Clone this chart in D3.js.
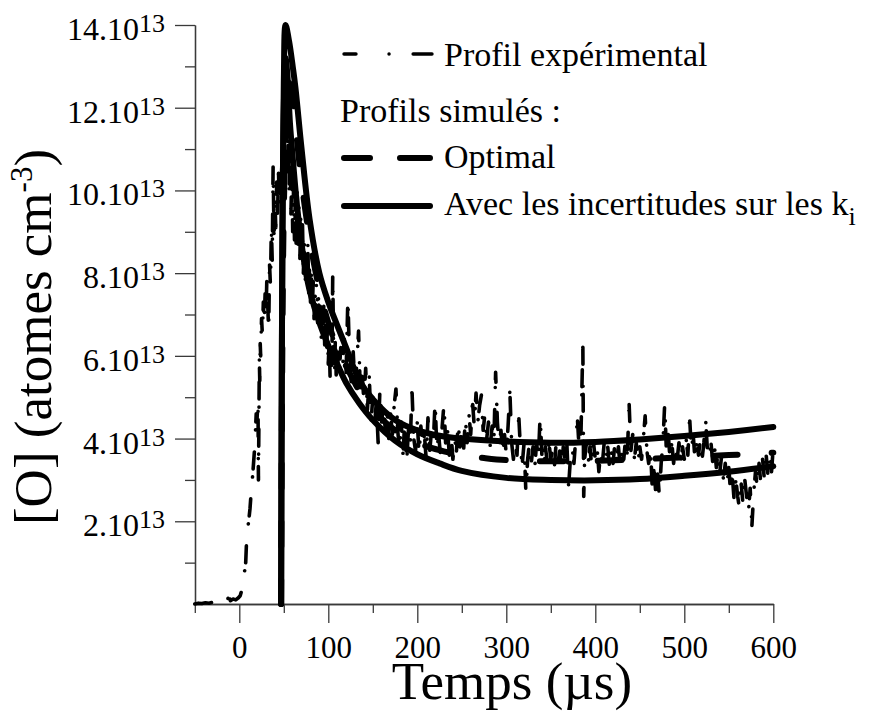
<!DOCTYPE html>
<html>
<head>
<meta charset="utf-8">
<script src="https://cdn.jsdelivr.net/npm/d3@7"></script>
<style>
  html, body { margin: 0; padding: 0; background: #fff; }
  svg { display: block; }
  text { font-family: "Liberation Serif", "Times New Roman", serif; fill: #000; }
</style>
</head>
<body>
<svg id="chart" width="874" height="713"></svg>
<script>
// ---------- data (concentration in units of 1e13 atomes cm-3, time in µs) ----------
const xMajorTicks = [0, 100, 200, 300, 400, 500, 600];
const xMinorTicks = [-50, 50, 150, 250, 350, 450, 550];
const yMajorTicks = [2, 4, 6, 8, 10, 12, 14];
const yMinorTicks = [1, 3, 5, 7, 9, 11, 13];
const yTickExponent = "13";

const legendLabels = ["Profil expérimental", "Profils simulés :", "Optimal", "Avec les incertitudes sur les k"];

// experimental profile [time, value]
const expProfile = [
[-50,0.0],[-46,0.02],[-42,0.01],[-38,0.03],[-34,0.02],[-30,0.04],[-27,0.06],[-24,0.05],[-21,0.15],[-18,0.08],
[-15,0.12],[-13,0.1],[-12,0.22],[-10,0.08],[-7,0.12],[-4,0.1],[-1,0.15],[1,0.2],[3,0.35],[4.5,0.55],
[6,0.8],[7.2,1.0],[8.3,1.6],[9.4,1.8],[11,2.1],[12,2.3],[13,2.6],[14,2.9],[15,3.1],[16,3.4],
[17,3.7],[18,4.1],[19,4.6],[20,4.5],[21,4.9],[21.5,3.0],[22,4.3],[22.5,5.9],[23,5.4],[23.5,6.3],
[24,6.0],[25,6.9],[26,6.5],[27,7.3],[28,6.8],[29,7.5],[30,7.0],[31,7.9],[32,7.2],[33,6.6],
[34,8.2],[35,7.7],[36,9.1],[37,8.3],[38,10.6],[39,8.9],[40,9.8],[41,9.1],[42,10.2],[43,9.4],
[44,10.5],[45,9.6],[46,10.3],[47,9.9],[48,10.8],[50,10.1],[52,11.0],[54,10.2],[55,11.4],[56,10.0],
[57,10.9],[58,9.4],[59,10.5],[60,9.0],[61,10.1],[62,8.8],[63,9.9],[64,8.5],[65,10.0],[66,8.7],
[67,9.6],[68,8.3],[69,9.3],[70,8.6],[71,9.2],[72,8.0],[73,8.8],[74,7.7],[75,8.6],[76,7.9],
[77,8.7],[78,7.5],[79,8.2],[80,7.3],[81,8.0],[82,7.1],[83,7.8],[84,6.9],[85,7.6],[86,7.0],
[87,8.1],[88,6.8],[89,7.4],[90,6.6],[91,7.2],[92,6.4],[93,7.0],[94,6.5],[95,7.3],[96,6.2],
[97,6.8],[98,6.0],[99,6.7],[100,5.8],[101,6.4],[102,5.5],[103,6.2],[104,5.7],[105,8.0],[106,6.0],
[107,5.5],[108,6.5],[109,5.4],[110,6.1],[112,5.5],[114,6.2],[116,5.7],[118,6.4],[120,5.6],[122,7.4],
[124,5.8],[126,5.3],[128,6.1],[130,5.2],[132,5.8],[134,6.6],[136,5.1],[138,5.6],[140,4.9],[142,5.7],
[144,4.7],[146,5.5],[148,4.4],[150,5.0],[152,4.3],[154,4.9],[156,3.9],[158,5.2],[160,4.4],[162,4.9],
[164,4.2],[166,4.7],[168,4.0],[170,4.6],[172,4.1],[174,4.8],[176,5.2],[178,4.2],[180,3.7],[182,4.4],
[184,3.6],[186,4.5],[188,3.4],[190,4.2],[192,3.8],[194,5.2],[196,4.0],[198,3.7],[200,4.4],[202,3.6],
[204,4.3],[206,3.8],[208,4.1],[210,3.5],[212,4.5],[214,3.7],[216,4.2],[218,3.9],[220,4.9],[222,3.7],
[224,4.1],[226,3.6],[228,4.3],[230,4.85],[232,3.8],[234,4.2],[236,3.6],[238,4.1],[240,3.5],[242,4.0],
[244,3.7],[246,4.4],[248,3.8],[250,4.2],[252,3.7],[254,4.5],[256,3.9],[258,4.6],[260,4.1],[262,4.9],
[264,4.3],[266,5.1],[268,4.4],[270,4.8],[272,5.05],[274,4.2],[276,4.6],[278,4.0],[280,4.4],[282,3.8],
[284,4.3],[286,3.9],[288,5.6],[290,4.4],[292,3.8],[294,4.2],[296,3.6],[298,4.1],[300,3.6],[302,4.3],
[304,5.15],[306,3.9],[308,3.5],[310,4.0],[312,3.6],[314,4.55],[316,3.7],[318,3.4],[320,3.9],[322,2.7],
[324,3.5],[326,3.9],[328,3.4],[330,3.8],[332,3.3],[334,3.9],[336,3.5],[338,4.55],[340,3.6],[342,3.3],
[344,3.8],[346,3.4],[348,3.9],[350,3.5],[352,3.8],[354,3.3],[356,3.9],[358,3.4],[360,3.7],[362,3.2],
[364,3.8],[366,3.4],[368,3.9],[370,2.85],[372,3.5],[374,3.8],[376,3.4],[378,4.0],[380,4.45],[382,3.7],
[384,4.2],[386,6.3],[387,2.6],[388,3.5],[390,3.9],[392,3.4],[394,3.8],[396,3.3],[398,3.9],[400,3.5],
[402,3.8],[404,3.2],[406,3.7],[408,3.4],[410,3.9],[412,3.5],[414,3.8],[416,3.3],[418,3.7],[420,3.4],
[422,3.9],[424,3.5],[426,3.8],[428,3.3],[430,3.7],[432,3.5],[434,4.0],[436,3.6],[438,4.85],[440,3.7],
[442,4.1],[444,3.5],[446,3.9],[448,3.4],[450,3.8],[452,3.5],[454,4.0],[456,4.55],[458,3.7],[460,3.4],
[462,3.8],[464,2.8],[466,3.3],[468,2.65],[470,3.2],[472,2.6],[474,3.4],[476,3.9],[478,4.85],[480,3.6],
[482,4.1],[484,3.5],[486,3.9],[488,3.4],[490,3.8],[492,3.5],[494,3.9],[496,3.4],[498,3.8],[500,3.5],
[502,4.0],[504,3.6],[506,4.5],[508,3.7],[510,4.1],[512,3.5],[514,3.9],[516,3.6],[518,4.0],[520,3.5],
[522,3.9],[524,4.45],[526,3.7],[528,3.5],[530,3.9],[532,3.4],[534,3.8],[536,3.3],[538,3.7],[540,3.2],
[542,3.6],[544,3.0],[546,3.4],[548,2.9],[550,3.3],[552,2.7],[554,3.1],[556,2.5],[558,3.0],[560,2.6],
[562,2.3],[564,2.9],[566,2.4],[568,3.0],[570,2.6],[572,2.2],[574,2.8],[576,1.9],[578,2.7],[580,3.2],
[582,2.8],[584,3.4],[586,2.9],[588,3.5],[590,3.0],[592,3.6],[594,3.1],[596,3.5],[598,3.2],[600,3.8]
];

// simulated profile, optimal set of rate constants
const simOptimal = [
[47,0],[48,5],[50,9.5],[53,11.8],[56,12.6],[59,12.5],[63,11.6],[70,10.2],[80,8.7],[90,7.6],
[100,6.8],[110,6.2],[120,5.75],[135,5.15],[150,4.7],[175,4.2],[200,3.9],[225,3.72],[250,3.6],[275,3.53],
[300,3.48],[350,3.45],[400,3.46],[450,3.5],[500,3.55],[550,3.6],[600,3.66]
];
// simulated profiles with the uncertainties on the k_i (upper and lower bounds)
const simUpper = [
[47,0],[47.5,4],[48.5,9],[50,12.6],[52,14.0],[56,13.6],[60,13.0],[63,12.5],[70,11.0],[79,9.3],
[90,8.0],[100,7.3],[107,6.9],[120,6.2],[135,5.4],[150,4.95],[175,4.45],[200,4.2],[225,4.07],[250,4.0],
[300,3.93],[350,3.9],[400,3.92],[450,3.98],[500,4.06],[550,4.16],[600,4.28]
];
const simLower = [
[47,0],[47.5,4],[48.5,9],[50,12.0],[52,13.2],[54,12.8],[57,11.6],[60,10.8],[65,9.6],[70,8.7],
[75,8.0],[80,7.5],[90,6.8],[100,6.25],[110,5.8],[120,5.35],[135,4.85],[150,4.45],[175,3.95],[200,3.62],
[225,3.4],[250,3.22],[300,3.05],[350,3.0],[400,2.99],[450,3.02],[500,3.1],[550,3.2],[600,3.33]
];

// ---------- drawing ----------
const svg = d3.select("#chart");
svg.append("rect").attr("width", 874).attr("height", 713).attr("fill", "#fff");

const x = d3.scaleLinear().domain([-50, 600]).range([194.8, 773.3]);
const y = d3.scaleLinear().domain([0, 14]).range([604, 25]);

const axisColor = "#3a3a3a";

// x axis
const gx = svg.append("g").attr("transform", "translate(0,604)");
gx.call(d3.axisBottom(x).tickValues(xMajorTicks).tickSize(19).tickSizeOuter(0).tickPadding(13).tickFormat(d3.format("d")));
gx.append("g").call(d3.axisBottom(x).tickValues(xMinorTicks).tickSize(9).tickSizeOuter(0).tickFormat(""));
gx.selectAll(".domain").attr("stroke", axisColor).attr("stroke-width", 1.3);
gx.selectAll(".tick line").attr("stroke", axisColor).attr("stroke-width", 1.3);
gx.selectAll(".tick text").attr("font-family", "Liberation Serif").attr("font-size", 31).attr("fill", "#000");

// y axis
const gy = svg.append("g").attr("transform", "translate(195,0)");
gy.call(d3.axisLeft(y).tickValues(yMajorTicks).tickSize(20).tickSizeOuter(0).tickFormat(""));
gy.append("g").call(d3.axisLeft(y).tickValues(yMinorTicks).tickSize(10).tickSizeOuter(0).tickFormat(""));
gy.selectAll(".domain").attr("stroke", axisColor).attr("stroke-width", 1.3);
gy.selectAll(".tick line").attr("stroke", axisColor).attr("stroke-width", 1.3);

// y tick labels with exponent
const yl = svg.append("g");
yMajorTicks.forEach(v => {
  const t = yl.append("text")
    .attr("x", 165)
    .attr("y", y(v) + 15)
    .attr("text-anchor", "end")
    .attr("font-size", 32);
  t.append("tspan").text(v + ".10");
  t.append("tspan").attr("dy", -8).attr("font-size", 26).text(yTickExponent);
});

// lines
const line = d3.line().x(d => x(d[0])).y(d => y(d[1]));
const smooth = d3.line().x(d => x(d[0])).y(d => y(d[1])).curve(d3.curveCatmullRom.alpha(0.5));

svg.append("path").datum(expProfile)
  .attr("d", line)
  .attr("fill", "none").attr("stroke", "#000").attr("stroke-width", 3.6)
  .attr("stroke-linecap", "round").attr("stroke-linejoin", "round")
  .attr("stroke-dasharray", "17,22,0.1,8");

svg.append("path").datum(simUpper)
  .attr("d", smooth)
  .attr("fill", "none").attr("stroke", "#000").attr("stroke-width", 6)
  .attr("stroke-linecap", "round").attr("stroke-linejoin", "round");

svg.append("path").datum(simLower)
  .attr("d", smooth)
  .attr("fill", "none").attr("stroke", "#000").attr("stroke-width", 6)
  .attr("stroke-linecap", "round").attr("stroke-linejoin", "round");

svg.append("path").datum(simOptimal)
  .attr("d", smooth)
  .attr("fill", "none").attr("stroke", "#000").attr("stroke-width", 6)
  .attr("stroke-linecap", "round").attr("stroke-linejoin", "round")
  .attr("stroke-dasharray", "24,34");

// legend
const lg = svg.append("g");
const lx0 = 342, lx1 = 432, tx = 444;
lg.append("line").attr("x1", lx0 + 2).attr("x2", lx1).attr("y1", 54).attr("y2", 54)
  .attr("stroke", "#000").attr("stroke-width", 3.4).attr("stroke-linecap", "round")
  .attr("stroke-dasharray", "12,33,0.1,24,20");
lg.append("text").attr("x", tx).attr("y", 66).attr("font-size", 34).text(legendLabels[0]);
lg.append("text").attr("x", 340).attr("y", 122).attr("font-size", 34).text(legendLabels[1]);
lg.append("line").attr("x1", lx0 + 2).attr("x2", lx1 - 2).attr("y1", 158).attr("y2", 158)
  .attr("stroke", "#000").attr("stroke-width", 6).attr("stroke-linecap", "round")
  .attr("stroke-dasharray", "26,30,40");
lg.append("text").attr("x", tx).attr("y", 168).attr("font-size", 34).text(legendLabels[2]);
lg.append("line").attr("x1", lx0 + 2).attr("x2", lx1 - 2).attr("y1", 206).attr("y2", 206)
  .attr("stroke", "#000").attr("stroke-width", 6).attr("stroke-linecap", "round");
const t4 = lg.append("text").attr("x", tx).attr("y", 215).attr("font-size", 34);
t4.append("tspan").text(legendLabels[3]);
t4.append("tspan").attr("dy", 10).attr("font-size", 26).text("i");

// axis titles
svg.append("text").attr("x", 512).attr("y", 699).attr("text-anchor", "middle")
  .attr("font-size", 53).text("Temps (µs)");

const yt = svg.append("text").attr("transform", "translate(51,337) rotate(-90)")
  .attr("text-anchor", "middle").attr("font-size", 53);
yt.append("tspan").text("[O] (atomes cm");
yt.append("tspan").attr("dy", -19).attr("font-size", 31).text("-3");
yt.append("tspan").attr("dy", 19).text(")");
</script>
</body>
</html>
